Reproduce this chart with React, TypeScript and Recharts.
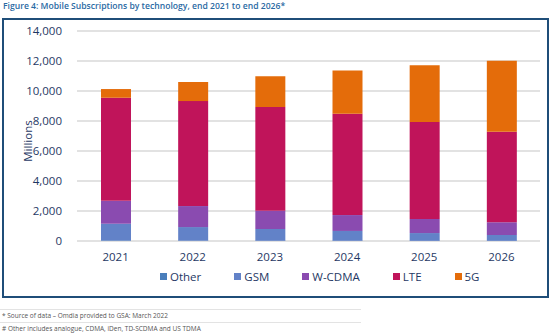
import React from 'react';
import { Bar, BarChart, CartesianGrid, Label, Legend, XAxis, YAxis } from 'recharts';

const years = ['2021', '2022', '2023', '2024', '2025', '2026'];
const other = [30, 25, 20, 15, 10, 10];
const gsm = [1120, 905, 780, 655, 520, 390];
const wcdma = [1530, 1400, 1220, 1060, 940, 850];
const lte = [6870, 7000, 6910, 6760, 6460, 6040];
const fiveG = [580, 1270, 2050, 2870, 3780, 4730];
const yTicks = [0, 2000, 4000, 6000, 8000, 10000, 12000, 14000];

const series = [
  { key: 'Other', color: '#4a7ebb' },
  { key: 'GSM', color: '#6282c8' },
  { key: 'W-CDMA', color: '#8a4bb0' },
  { key: 'LTE', color: '#c0145a' },
  { key: '5G', color: '#e46c0a' },
];

const data = years.map((y, i) => ({
  year: y,
  Other: other[i],
  GSM: gsm[i],
  'W-CDMA': wcdma[i],
  LTE: lte[i],
  '5G': fiveG[i],
}));

const navy = '#1f3864';
const font = '"Open Sans", sans-serif';

const LegendBox = () => (
  <div
    style={{
      height: 26,
      display: 'flex',
      alignItems: 'center',
      paddingLeft: 160,
      gap: 33,
      fontFamily: font,
      fontSize: 11.5,
      color: navy,
    }}
  >
    {series.map((s) => (
      <div key={s.key} style={{ display: 'flex', alignItems: 'center' }}>
        <span style={{ width: 7, height: 7, background: s.color, marginRight: 3, display: 'inline-block' }} />
        <span>{s.key}</span>
      </div>
    ))}
  </div>
);

const App = () => {
  return (
    <div style={{ position: 'absolute', left: 0, top: 0, width: 550, height: 334, background: '#fff', fontFamily: font }}>
      <div style={{ position: 'absolute', left: 3, top: 0, fontSize: 8.6, fontWeight: 600, color: '#2a6aa3', whiteSpace: 'nowrap' }}>
        Figure 4: Mobile Subscriptions by technology, end 2021 to end 2026*
      </div>
      <div
        style={{
          position: 'absolute',
          left: 2,
          top: 18,
          width: 543,
          height: 276,
          border: '2px solid #1f4e79',
        }}
      />
      <div style={{ position: 'absolute', left: 0, top: 0 }}>
        <BarChart
          width={550}
          height={300}
          data={data}
          margin={{ top: 31, right: 10, left: 0, bottom: 11 }}
          barSize={30}
        >
          <CartesianGrid vertical={false} stroke="#d9d9d9" strokeWidth={1.5} />
          <XAxis
            dataKey="year"
            axisLine={false}
            tickLine={false}
            tickSize={0}
            tickMargin={12}
            height={22}
            tick={{ fill: navy, fontSize: 11.5, fontFamily: font }}
          />
          <YAxis
            width={77}
            domain={[0, 14000]}
            ticks={yTicks}
            axisLine={false}
            tickLine={false}
            tickSize={0}
            tickMargin={15}
            tickFormatter={(v: number) => v.toLocaleString('en-US')}
            tick={{ fill: navy, fontSize: 11.5, fontFamily: font }}
          >
            <Label
              value="Millions"
              angle={-90}
              position="insideLeft"
              offset={28}
              dy={5}
              style={{ fill: navy, fontSize: 11.5, fontFamily: font, textAnchor: 'middle' }}
            />
          </YAxis>
          <Legend verticalAlign="bottom" content={() => <LegendBox />} />
          {series.map((s) => (
            <Bar key={s.key} dataKey={s.key} stackId="a" fill={s.color} isAnimationActive={false} />
          ))}
        </BarChart>
      </div>
      <div style={{ position: 'absolute', left: 0, top: 309, width: 361, fontSize: 6.5, color: '#555' }}>
        <div style={{ height: 12, lineHeight: '12px', borderTop: '1px solid #e3e3e3', paddingLeft: 2 }}>
          * Source of data – Omdia provided to GSA: March 2022
        </div>
        <div style={{ height: 12, lineHeight: '12px', borderTop: '1px solid #e3e3e3', paddingLeft: 2 }}>
          # Other includes analogue, CDMA, iDen, TD-SCDMA and US TDMA
        </div>
      </div>
    </div>
  );
};

export default App;
